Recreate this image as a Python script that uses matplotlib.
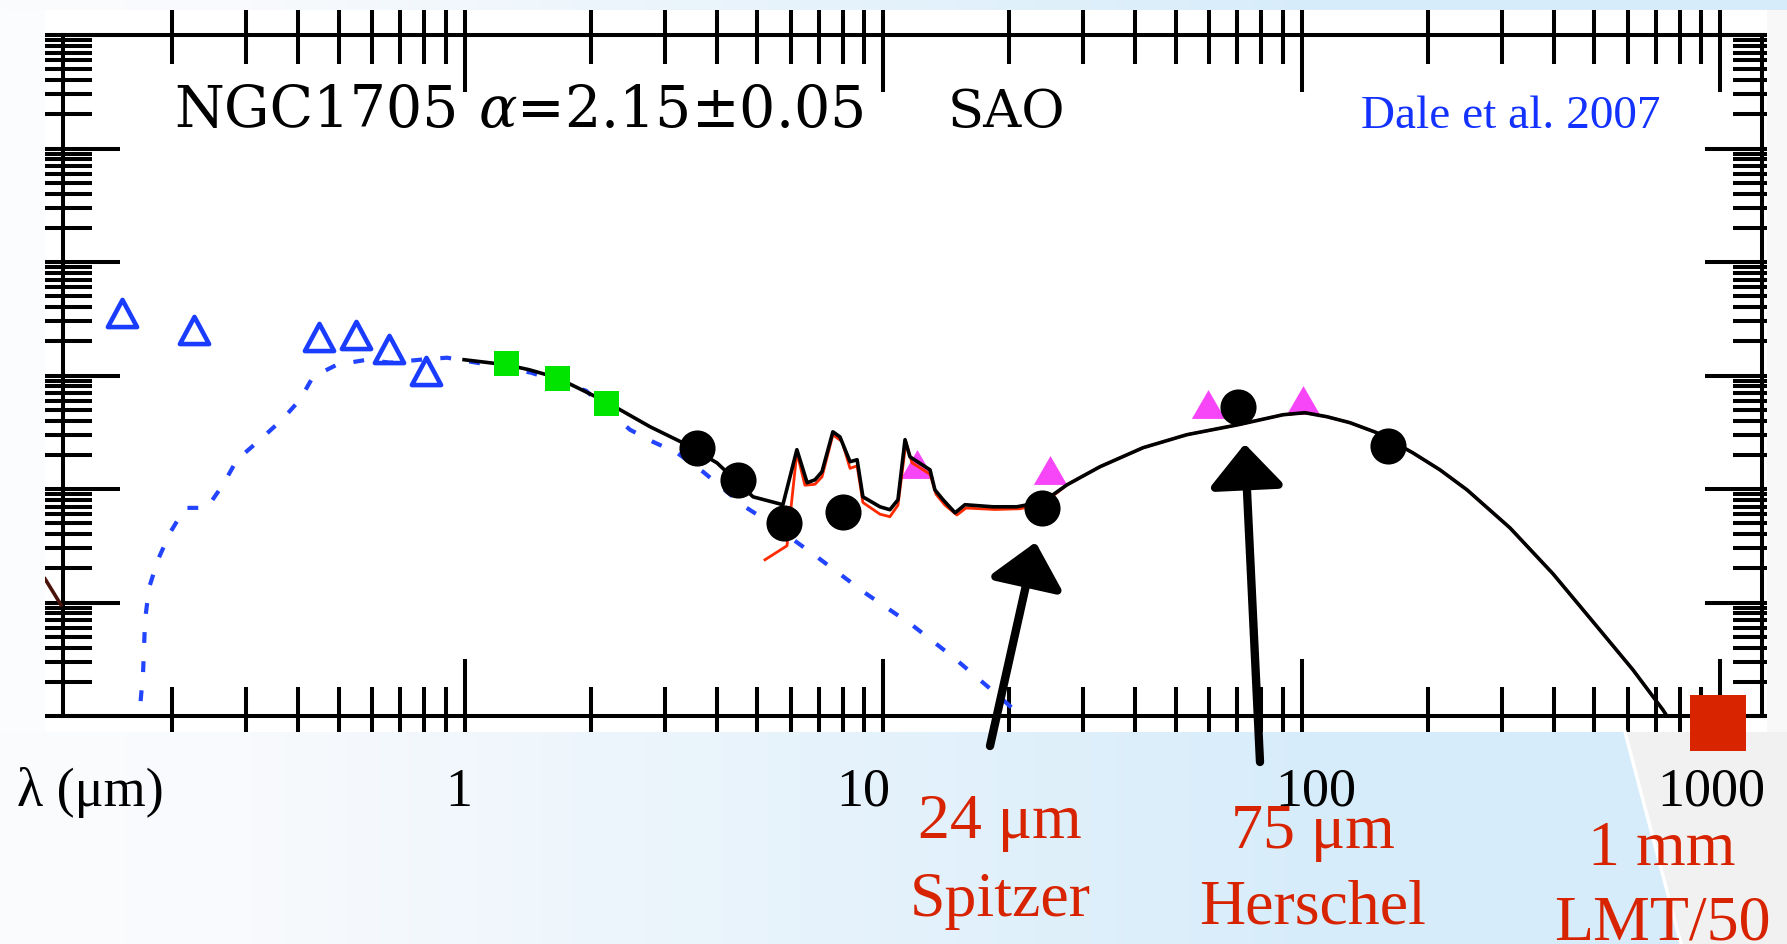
import numpy as np
import matplotlib
matplotlib.use("Agg")
import matplotlib.pyplot as plt
from matplotlib.ticker import LogLocator, NullFormatter
from matplotlib.patches import Rectangle, Polygon
from matplotlib.path import Path

plt.rcParams["mathtext.fontset"] = "dejavuserif"

# ---- photometry (wavelength in micron, lambda*F_lambda in arbitrary units) ----
uvopt_lam = [0.1515, 0.2251, 0.4478, 0.549, 0.658, 0.807]
uvopt_flux = [3.58, 2.54, 2.20, 2.29, 1.72, 1.10]
nir_lam = [1.253, 1.659, 2.173]
nir_flux = [1.30, 0.957, 0.575]
spitzer_lam = [3.58, 4.49, 5.78, 8.00, 23.9, 70.3, 160.6]
spitzer_flux = [0.231, 0.1205, 0.0504, 0.0630, 0.0682, 0.531, 0.240]
iras_lam = [12.0, 25.0, 59.6, 100.6]
iras_flux = [0.167, 0.1475, 0.564, 0.612]
lmt_lam = [986]
lmt_flux = [8.7e-4]

# ---- total model / spectrum (black) ----
model_lam = [0.995, 1.253, 1.422, 1.659, 2.173, 2.767, 3.318, 4.00, 4.88, 5.75,
             6.21, 6.57, 6.86, 7.13, 7.57, 7.87, 8.32, 8.65, 8.93, 9.81,
             10.36, 10.83, 11.26, 11.57, 12.92, 13.27, 13.88, 14.83, 15.66, 18.26,
             20.84, 24.05, 27.45, 32.9, 41.7, 53.1, 70.3, 90.1, 101.6, 114.7,
             130.2, 151.1, 184.2, 213.7, 247.9, 314, 398, 515, 618, 729, 778]
model_flux = [1.377, 1.245, 1.125, 0.957, 0.587, 0.354, 0.255, 0.170, 0.0853, 0.0727,
              0.222, 0.1136, 0.1205, 0.142, 0.319, 0.288, 0.174, 0.181, 0.0853, 0.0697,
              0.0657, 0.0804, 0.272, 0.192, 0.1475, 0.0984, 0.0804, 0.0617, 0.0727, 0.0697,
              0.0697, 0.0771, 0.1089, 0.157, 0.231, 0.301, 0.368, 0.451, 0.470, 0.4335,
              0.384, 0.313, 0.208, 0.1475, 0.0984, 0.0455, 0.0179, 5.73e-3, 2.55e-3, 1.13e-3, 7.8e-4]

# ---- dust model (red), mid-IR part; far-IR follows the black curve ----
dust_lam = [5.21, 5.88, 6.21, 6.49, 6.86, 7.13, 7.57, 7.96, 8.32, 8.65,
            8.93, 9.81, 10.36, 10.83, 11.32, 11.70, 12.92, 13.35, 14.03, 14.98,
            15.75, 18.47, 21.2, 24.05]
dust_flux = [0.0238, 0.0316, 0.210, 0.108, 0.110, 0.128, 0.300, 0.262, 0.152, 0.160,
             0.0760, 0.0600, 0.0570, 0.0720, 0.258, 0.170, 0.135, 0.0900, 0.0720, 0.0590,
             0.0680, 0.0660, 0.0670, 0.0740]

# ---- stellar model (blue dotted) ----
star_lam = [0.1655, 0.1673, 0.1701, 0.1720, 0.1758, 0.1846, 0.1973, 0.2143, 0.2417, 0.2640,
            0.2851, 0.3237, 0.3653, 0.4034, 0.4333, 0.4944, 0.5832, 0.6617, 0.7806, 0.9057,
            1.253, 1.438, 1.946, 2.479, 2.813, 3.211, 3.705, 4.668, 5.356, 6.936,
            9.03, 11.70, 14.66, 18.47, 20.84, 22.39]
star_flux = [7.5e-4, 1.18e-3, 2.39e-3, 7.02e-3, 0.01346, 0.02377, 0.0411, 0.0682, 0.0682, 0.1089,
             0.1807, 0.2716, 0.4074, 0.612, 0.975, 1.245, 1.377, 1.297, 1.377, 1.435,
             1.172, 1.059, 0.7345, 0.3327, 0.2606, 0.2084, 0.1419, 0.0697, 0.0504, 0.02523,
             0.01217, 6.34e-3, 3.31e-3, 1.60e-3, 1.08e-3, 8.3e-4]

# short piece of the model left of the frame
uv_edge_lam = [0.0992, 0.1083]
uv_edge_flux = [0.01614, 0.00953]

x_tick_labels = ["1", "10", "100", "1000"]
band_labels = [("24 μm", "Spitzer"), ("75 μm", "Herschel"), ("1 mm", "LMT/50")]

W, H = 1787, 944
fig = plt.figure(figsize=(W / 100, H / 100), dpi=100, facecolor="white")

# main plot frame
ax = fig.add_axes([63 / W, (H - 716) / H, (1762 - 63) / W, (716 - 35) / H], zorder=1)
ax.set_xscale("log")
ax.set_yscale("log")
ax.set_xlim(0.1095, 1257)
ax.set_ylim(1e-3, 1e3)

tri_eq = Path([(-1, -0.866), (1, -0.866), (0, 0.866), (-1, -0.866)], closed=True)
tri_open = Path([(-1, -0.93), (1, -0.93), (0, 0.93), (-1, -0.93)], closed=True)

ax.plot(star_lam, star_flux, color="#2244ff", lw=3.0, ls=(0, (2.6, 4.4)), zorder=2)
ax.plot(iras_lam, iras_flux, ls="none", marker=tri_eq, ms=24, color="#f746f7", mew=0, zorder=3)
red_lam = dust_lam + [l for l in model_lam if l > 26]
red_flux = dust_flux + [f for l, f in zip(model_lam, model_flux) if l > 26]
ax.plot(red_lam, red_flux, color="#ff2a00", lw=2.0, zorder=4)
ax.plot(model_lam, model_flux, color="black", lw=2.6, zorder=5)
ax.plot(uv_edge_lam, uv_edge_flux, color="#4a1208", lw=2.6, clip_on=False, zorder=5)
ax.plot(uvopt_lam, uvopt_flux, ls="none", marker=tri_open, ms=21, mfc="none",
        mec="#1a3cff", mew=3.3, zorder=6)
ax.plot(nir_lam, nir_flux, ls="none", marker="s", ms=18, color="#00e400", mew=0, zorder=6)
ax.plot(spitzer_lam, spitzer_flux, ls="none", marker="o", ms=26, color="black", mew=0, zorder=7)

ax.xaxis.set_minor_locator(LogLocator(base=10, subs=np.arange(2, 10), numticks=50))
ax.yaxis.set_major_locator(LogLocator(base=10, numticks=50))
ax.yaxis.set_minor_locator(LogLocator(base=10, subs=np.arange(2, 10), numticks=50))
ax.xaxis.set_minor_formatter(NullFormatter())
ax.yaxis.set_minor_formatter(NullFormatter())
ax.tick_params(which="both", direction="inout", top=True, right=True,
               labelbottom=False, labelleft=False, width=2.9, color="black")
ax.tick_params(which="major", length=82)
ax.tick_params(which="minor", length=42)
for s in ax.spines.values():
    s.set_linewidth(2.9)

# slide layer, pixel coordinates from the top-left corner
ov = fig.add_axes([0, 0, 1, 1], zorder=3)
ov.set_autoscale_on(False)
ov.set_xlim(0, W)
ov.set_ylim(H, 0)
ov.axis("off")

xs = np.arange(W)
grad = np.stack([np.interp(xs, [0, 250, 1350, W], [251, 248, 214, 214]),
                 np.interp(xs, [0, 250, 1350, W], [252, 250, 236, 236]),
                 np.interp(xs, [0, 250, 1350, W], [254, 253, 250, 250])], axis=-1)[None] / 255
ov.imshow(grad, extent=(0, W, 10, 0), aspect="auto", zorder=0)
ov.imshow(grad, extent=(0, W, H, 732), aspect="auto", zorder=0)
ov.add_patch(Rectangle((0, 10), 45, 722, color="#fbfcfe", lw=0, zorder=0))
ov.add_patch(Rectangle((1767, 10), W - 1767, 722, color="#f8f8f8", lw=0, zorder=0))
ov.add_patch(Polygon([(1625, 732), (1681, H), (W, H), (W, 732)], closed=True,
                     color="#f1f1f1", lw=0, zorder=1))
ov.plot([1625, 1681], [732, H], color="white", lw=2.5, zorder=1)
ov.set_xlim(0, W)
ov.set_ylim(H, 0)

# in-plot texts
title_font = dict(family="DejaVu Serif", fontsize=41, color="black", va="baseline", ha="left")
ov.text(174, 127, "NGC1705", **title_font)
ov.text(478, 127, r"$\alpha$=2.15±0.05", **title_font)
ov.text(948, 127, "SAO", fontsize=38, family="DejaVu Serif", color="black",
        va="baseline", ha="left")
ov.text(1361, 128, "Dale et al. 2007", family="Liberation Serif", fontsize=34,
        color="#1432ff", va="baseline")

# axis captions on the slide
serif = dict(family="Liberation Serif", va="baseline")
ov.text(17, 806, "λ (μm)", fontsize=39, color="black", ha="left", **serif)
for lab, xc in zip(x_tick_labels, [459, 863, 1316, 1711]):
    ov.text(xc, 806, lab, fontsize=39, color="black", ha="center", **serif)

red = "#d72300"
for (l1, l2), xc, y1, y2 in zip(band_labels, [1000, 1313, 1662], [838, 848, 865], [916, 924, 939]):
    ov.text(xc, y1, l1, fontsize=46, color=red, ha="center", **serif)
    ov.text(xc, y2, l2, fontsize=46, color=red, ha="center", **serif)

# arrows pointing at the Spitzer 24 um and Herschel points
arrow_tips = [(23.1, 0.034), (73.0, 0.25)]
arrow_tails = [(990, 746), (1260, 762)]
for tip, tail in zip(arrow_tips, arrow_tails):
    ov.annotate("", xy=tip, xycoords=ax.transData, xytext=tail, textcoords="data",
                annotation_clip=False,
                arrowprops=dict(arrowstyle="-|>,head_length=0.5,head_width=0.44",
                                mutation_scale=52, lw=6, color="black",
                                shrinkA=0, shrinkB=0), zorder=8)

# 1 mm LMT point
ov.plot(lmt_lam, lmt_flux, ls="none", marker="s", ms=40, color="#d92400", mew=0,
        transform=ax.transData, clip_on=False, zorder=9)

fig.savefig("out.png", dpi=100)
